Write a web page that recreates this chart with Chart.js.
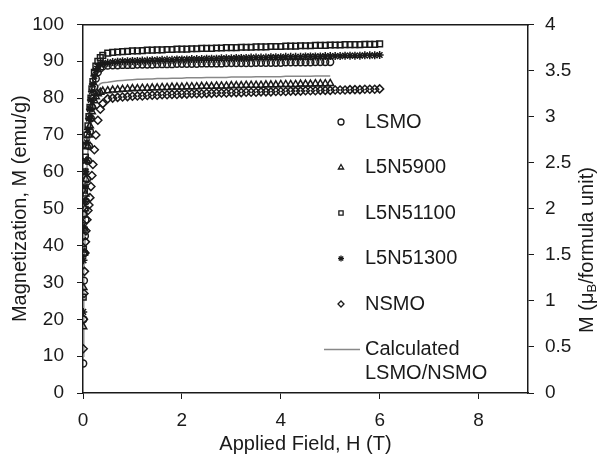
<!DOCTYPE html>
<html>
<head>
<meta charset="utf-8">
<script src="https://cdn.jsdelivr.net/npm/chart.js"></script>
<style>
  body { margin: 0; background: #fff; }
  #wrap { width: 598px; height: 458px; }
</style>
</head>
<body>
<div id="wrap"><canvas id="chart"></canvas></div>
<script>
// applied field H (T), shared by all series
const field = [0.005, 0.01, 0.02, 0.03, 0.04, 0.05, 0.06, 0.08, 0.1, 0.12, 0.14, 0.16, 0.18, 0.2, 0.23, 0.26, 0.3, 0.35, 0.4,
    0.5, 0.6, 0.7, 0.8, 0.9, 1.0, 1.1, 1.2, 1.3, 1.4, 1.5, 1.6, 1.7, 1.8, 1.9, 2.0, 2.1, 2.2, 2.3, 2.4,
    2.5, 2.6, 2.7, 2.8, 2.9, 3.0, 3.1, 3.2, 3.3, 3.4, 3.5, 3.6, 3.7, 3.8, 3.9, 4.0, 4.1, 4.2, 4.3, 4.4,
    4.5, 4.6, 4.7, 4.8, 4.9, 5.0, 5.1, 5.2, 5.3, 5.4, 5.5, 5.6, 5.7, 5.8, 5.9, 6.0];

// magnetization M (emu/g)
const lsmo = [8, 20, 30.5, 38, 42.6, 47, 52, 58, 63, 67, 71, 74.5, 77.5, 80, 83, 85.3, 87, 88.1, 88.6,
    88.8, 88.9, 88.9, 89.0, 89.0, 89.0, 89.1, 89.1, 89.1, 89.1,
    89.2, 89.2, 89.2, 89.2, 89.3, 89.3, 89.3, 89.3, 89.3, 89.4,
    89.4, 89.4, 89.4, 89.4, 89.5, 89.5, 89.5, 89.5, 89.5, 89.5,
    89.6, 89.6, 89.6, 89.6, 89.6, 89.6, 89.7, 89.7, 89.7, 89.7,
    89.7, 89.7, 89.8, 89.8, 89.8, 89.8];
const l5n5900 = [18, 28.6, 38, 44.5, 50, 54, 58, 63, 67, 70, 72.5, 74.5, 76.3, 77.8, 79.3, 80.4, 81.2, 81.6, 81.9,
    82.0, 82.2, 82.3, 82.4, 82.5, 82.6, 82.6, 82.7, 82.7, 82.8,
    82.8, 82.9, 82.9, 83.0, 83.0, 83.0, 83.1, 83.1, 83.1, 83.2,
    83.2, 83.2, 83.3, 83.3, 83.3, 83.4, 83.4, 83.4, 83.5, 83.5,
    83.5, 83.5, 83.6, 83.6, 83.6, 83.7, 83.7, 83.7, 83.7, 83.8,
    83.8, 83.8, 83.9, 83.9, 83.9, 84.0];
const l5n51100 = [26, 39, 48.5, 55, 60, 64, 67, 70, 72.5, 75, 77.5, 80, 82.5, 84.5, 87, 88.7, 90, 91, 91.6,
    92.2, 92.4, 92.5, 92.6, 92.7, 92.8, 92.8, 92.9, 93.0, 93.0,
    93.1, 93.1, 93.2, 93.2, 93.3, 93.3, 93.3, 93.4, 93.4, 93.5,
    93.5, 93.5, 93.6, 93.6, 93.7, 93.7, 93.7, 93.8, 93.8, 93.8,
    93.9, 93.9, 93.9, 94.0, 94.0, 94.0, 94.1, 94.1, 94.1, 94.2,
    94.2, 94.2, 94.3, 94.3, 94.3, 94.4, 94.4, 94.4, 94.5, 94.5,
    94.5, 94.5, 94.6, 94.6, 94.6, 94.7];
const l5n51300 = [22, 36, 45, 52, 56, 60, 63, 68, 71.5, 74.5, 77, 79.5, 81.8, 83.8, 86, 87.5, 88.6, 89.2, 89.4,
    89.6, 89.8, 89.9, 90.0, 90.0, 90.1, 90.1, 90.2, 90.2, 90.3,
    90.3, 90.4, 90.4, 90.4, 90.5, 90.5, 90.5, 90.6, 90.6, 90.6,
    90.7, 90.7, 90.7, 90.8, 90.8, 90.8, 90.9, 90.9, 90.9, 91.0,
    91.0, 91.0, 91.0, 91.1, 91.1, 91.1, 91.2, 91.2, 91.2, 91.2,
    91.3, 91.3, 91.3, 91.3, 91.4, 91.4, 91.4, 91.4, 91.5, 91.5,
    91.5, 91.5, 91.6, 91.6, 91.6, 91.7];
const nsmo = [12, 20, 27, 33, 38, 41, 44, 47, 49.5, 51, 53, 56, 59, 62, 66, 70, 74, 77, 78.5,
    79.8, 80.0, 80.2, 80.3, 80.4, 80.5, 80.6, 80.6, 80.7, 80.8,
    80.8, 80.9, 80.9, 81.0, 81.0, 81.1, 81.1, 81.2, 81.2, 81.2,
    81.3, 81.3, 81.4, 81.4, 81.4, 81.5, 81.5, 81.5, 81.6, 81.6,
    81.6, 81.7, 81.7, 81.7, 81.8, 81.8, 81.8, 81.9, 81.9, 81.9,
    82.0, 82.0, 82.0, 82.1, 82.1, 82.1, 82.2, 82.2, 82.2, 82.3,
    82.3, 82.3, 82.4, 82.4, 82.4, 82.5];
const calculated = [10, 22, 33, 40, 46, 51, 55, 61, 65.5, 69, 72, 74.8, 77, 78.8, 80.7, 82.1, 83.2, 83.9, 84.2,
    84.3, 84.5, 84.7, 84.8, 84.9, 85.0, 85.1, 85.1, 85.2, 85.2,
    85.3, 85.3, 85.3, 85.4, 85.4, 85.4, 85.5, 85.5, 85.5, 85.5,
    85.6, 85.6, 85.6, 85.6, 85.6, 85.7, 85.7, 85.7, 85.7, 85.7,
    85.8, 85.8, 85.8, 85.8, 85.8, 85.8, 85.9, 85.9, 85.9, 85.9,
    85.9, 85.9, 86.0, 86.0, 86.0, 86.0];

const fieldTicks = [0, 2, 4, 6, 8];
const momentTicks = [0, 0.5, 1, 1.5, 2, 2.5, 3, 3.5, 4];

const FONT = "'Liberation Sans', Arial, sans-serif";
const INK = '#1a1a1a';

function pts(values) {
    return values.map((m, i) => ({x: field[i], y: m}));
}

function markerSet(label, values, style, radius) {
    return {
        label: label,
        data: pts(values),
        pointStyle: style,
        pointRadius: radius,
        pointBorderWidth: 1.5,
        borderColor: INK,
        pointBorderColor: INK,
        pointBackgroundColor: 'rgba(0,0,0,0)',
        showLine: false
    };
}

const legendInside = {
    id: 'legendInside',
    afterDatasetsDraw(chart) {
        const ctx = chart.ctx;
        const markX = 341, textX = 365;
        let y = 122;
        ctx.save();
        ctx.font = '20px ' + FONT;
        ctx.textBaseline = 'middle';
        ctx.fillStyle = INK;
        chart.data.datasets.forEach((ds) => {
            if (ds.showLine) {
                ctx.strokeStyle = '#888';
                ctx.lineWidth = 1.5;
                ctx.beginPath();
                ctx.moveTo(324, y);
                ctx.lineTo(360, y);
                ctx.stroke();
                const lines = ds.label.split(' ');
                lines.forEach((t, k) => ctx.fillText(t, textX, y + k * 24));
            } else {
                ctx.strokeStyle = INK;
                ctx.fillStyle = 'rgba(0,0,0,0)';
                ctx.lineWidth = 1.3;
                Chart.helpers.drawPoint(ctx, {pointStyle: ds.pointStyle, radius: 3, rotation: 0, borderWidth: 1.3}, markX, y);
                ctx.fillStyle = INK;
                ctx.fillText(ds.label, textX, y);
            }
            y += 45.5;
        });
        ctx.restore();
    }
};

const rightTitle = {
    id: 'rightTitle',
    afterDraw(chart) {
        const ctx = chart.ctx;
        const big = '20px ' + FONT, small = '13px ' + FONT;
        const parts = [['M (\u03bc', big, 0], ['B', small, 5], ['/formula unit)', big, 0]];
        let total = 0;
        parts.forEach(p => { ctx.font = p[1]; total += ctx.measureText(p[0]).width; });
        ctx.save();
        ctx.translate(587, 250);
        ctx.rotate(-Math.PI / 2);
        ctx.fillStyle = INK;
        ctx.textBaseline = 'middle';
        let x = -total / 2;
        parts.forEach(p => {
            ctx.font = p[1];
            ctx.fillText(p[0], x, p[2]);
            x += ctx.measureText(p[0]).width;
        });
        ctx.restore();
    }
};

new Chart(document.getElementById('chart'), {
    type: 'scatter',
    data: {
        datasets: [
            markerSet('LSMO', lsmo, 'circle', 3.4),
            markerSet('L5N5900', l5n5900, 'triangle', 4),
            markerSet('L5N51100', l5n51100, 'rect', 4),
            markerSet('L5N51300', l5n51300, 'star', 4),
            markerSet('NSMO', nsmo, 'rectRot', 4),
            {
                label: 'Calculated LSMO/NSMO',
                data: pts(calculated),
                showLine: true,
                borderColor: '#888',
                borderWidth: 1.5,
                pointRadius: 0,
                order: 10
            }
        ]
    },
    options: {
        responsive: true,
        maintainAspectRatio: false,
        animation: false,
        layout: {padding: 0},
        plugins: {
            legend: {display: false},
            tooltip: {enabled: false}
        },
        scales: {
            x: {
                type: 'linear',
                position: 'bottom',
                min: 0,
                max: 9,
                afterBuildTicks: (s) => { s.ticks = fieldTicks.map(v => ({value: v})); },
                ticks: {color: INK, font: {family: FONT, size: 19}, padding: 10},
                grid: {drawOnChartArea: false, tickLength: 6, color: INK},
                border: {color: INK, width: 1.5},
                title: {display: true, text: 'Applied Field, H (T)', color: INK, font: {family: FONT, size: 20}, padding: {top: 0, bottom: 2}},
                afterFit: (s) => { s.height = 65; }
            },
            xTop: {
                type: 'linear',
                position: 'top',
                min: 0,
                max: 9,
                ticks: {display: false},
                grid: {display: false},
                border: {color: INK, width: 1.5},
                afterFit: (s) => { s.height = 22; }
            },
            y: {
                type: 'linear',
                position: 'left',
                min: 0,
                max: 100,
                ticks: {stepSize: 10, color: INK, font: {family: FONT, size: 19}, padding: 13},
                grid: {drawOnChartArea: false, tickLength: 6, color: INK},
                border: {color: INK, width: 1.5},
                title: {display: true, text: 'Magnetization, M (emu/g)', color: INK, font: {family: FONT, size: 20}, padding: {top: 8, bottom: 0}},
                afterFit: (s) => { s.width = 83; }
            },
            y2: {
                type: 'linear',
                position: 'right',
                min: momentTicks[0],
                max: momentTicks[momentTicks.length - 1],
                afterBuildTicks: (s) => { s.ticks = momentTicks.map(v => ({value: v})); },
                ticks: {color: INK, font: {family: FONT, size: 19}, padding: 11, callback: (v) => String(v)},
                grid: {drawOnChartArea: false, tickLength: 6, color: INK},
                border: {color: INK, width: 1.5},
                afterFit: (s) => { s.width = 70; }
            }
        }
    },
    plugins: [legendInside, rightTitle]
});
</script>
</body>
</html>
